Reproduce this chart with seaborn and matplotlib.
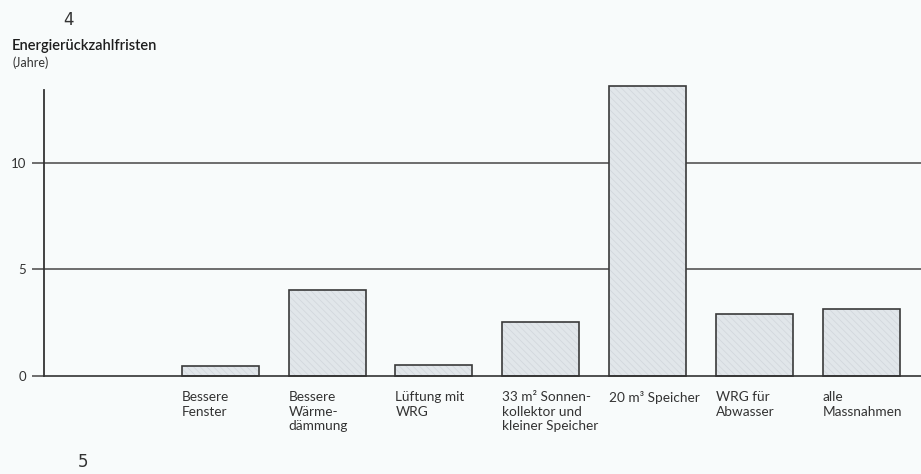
import matplotlib
matplotlib.use("Agg")
import matplotlib.pyplot as plt
import matplotlib.colors as mcolors
import seaborn as sns
import numpy as np
import pandas as pd

categories = ["Bessere\nFenster", "Bessere\nWärme-\ndämmung", "Lüftung mit\nWRG",
              "33 m² Sonnen-\nkollektor und\nkleiner Speicher", "20 m³ Speicher",
              "WRG für\nAbwasser", "alle\nMassnahmen"]
values = [0.47, 4.02, 0.52, 2.55, 13.6, 2.92, 3.16]
yticks = [0, 5, 10]

sns.set_theme(style="white")
plt.rcParams['font.family'] = ['Lato', 'DejaVu Sans']
plt.rcParams['hatch.linewidth'] = 0.5

bg = '#f8fbfb'
fig = plt.figure(figsize=(9.21, 4.74), dpi=100, facecolor=bg)
ax = fig.add_axes([44/921, (474-376)/474, 1 - 44/921, (376-90)/474])
ax.set_facecolor(bg)

df = pd.DataFrame({"cat": categories, "val": values})
width = 0.72
sns.barplot(data=df, x="cat", y="val", order=categories, color='#e1e6ea',
            width=width, edgecolor='#3a3a3a', linewidth=1.2, saturation=1,
            ax=ax)
hc = mcolors.to_rgba('#d0d5db')
for p in ax.patches:
    p.set_hatch('\\\\\\\\\\')
    p._hatch_color = hc
    p.set_clip_on(False)
    p.set_zorder(3)

ax.set_xlim(-1.65, 6.56)
ax.set_ylim(0, 13.4)

for s in ['top', 'right', 'bottom']:
    ax.spines[s].set_visible(False)
ax.spines['left'].set_color('#333333')
ax.spines['left'].set_linewidth(1.3)

for yv in yticks:
    ax.axhline(yv, color='#555555' if yv else '#333333', lw=1.2,
               zorder=4 if yv == 0 else 1, clip_on=False)

ax.set_yticks(yticks)
ax.set_yticklabels([str(v) for v in yticks], fontsize=9.5, color='#333333')
ax.tick_params(axis='y', length=9, width=1.2, color='#555555', pad=4, left=True)

ax.set_xticks(np.arange(len(categories)) - width / 2)
ax.set_xticklabels(categories, ha='left', va='top', fontsize=9.8,
                   color='#333333', linespacing=1.25)
ax.tick_params(axis='x', length=0, pad=11)
ax.set_xlabel("")
ax.set_ylabel("")

fig.text(12/921, 1 - 46/474, "Energierückzahlfristen", fontsize=10.5,
         color='#1e1e1e', va='center', ha='left', fontweight='semibold')
fig.text(12/921, 1 - 63/474, "(Jahre)", fontsize=9, color='#333333',
         va='center', ha='left')
fig.text(63/921, 1 - 20/474, "4", fontsize=12, color='#333333',
         va='center', ha='left', family=['DejaVu Sans'])
fig.text(78/921, 1 - 462/474, "5", fontsize=12, color='#333333',
         va='center', ha='left', family=['DejaVu Sans'])

fig.savefig("out.png", dpi=100, facecolor=bg)
